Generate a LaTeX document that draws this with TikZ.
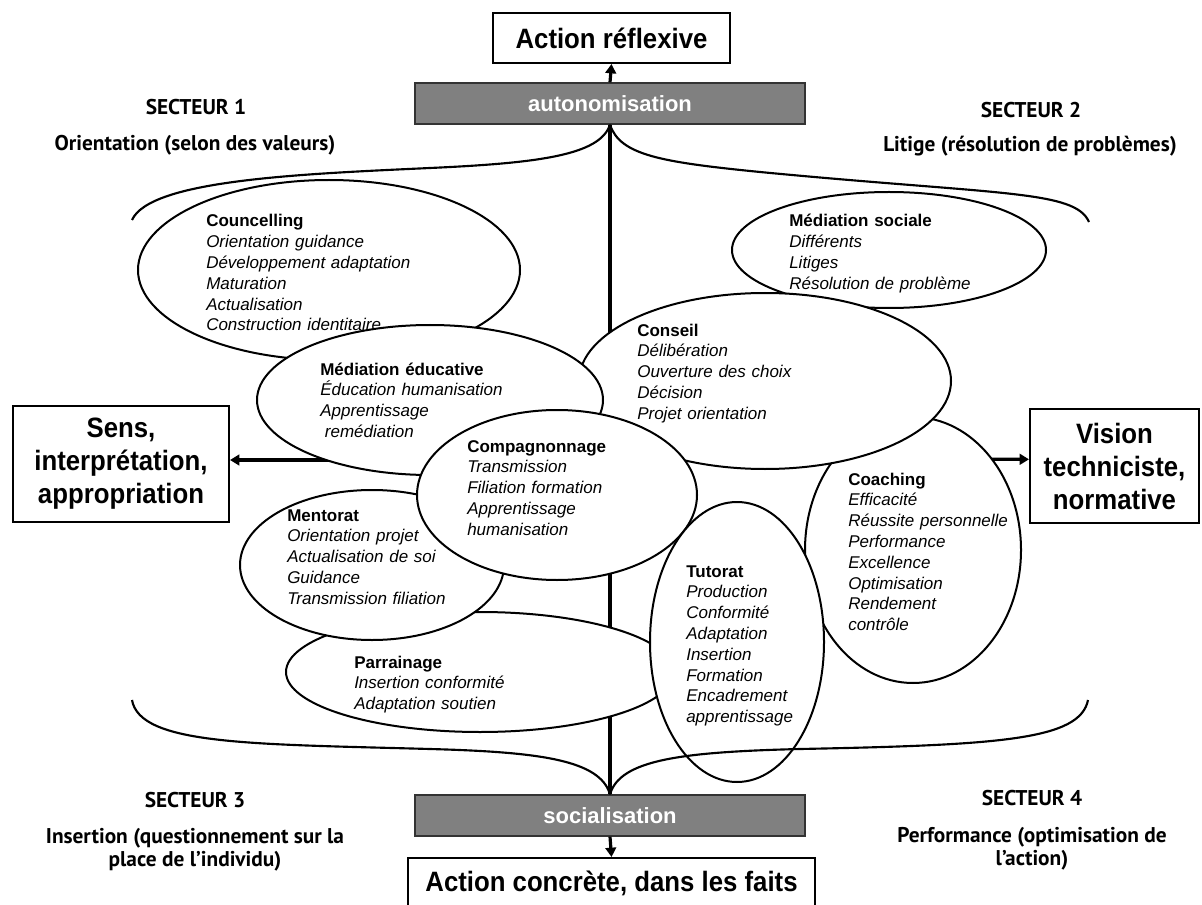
\documentclass[tikz,border=0pt]{standalone}
\usepackage{fontspec}
\setmainfont{Liberation Sans}
\newfontfamily\labfont{Liberation Sans}[FakeStretch=0.92]
\newfontfamily\sectfont{PT Sans}
\usetikzlibrary{arrows.meta,shapes.geometric}
\definecolor{boxgray}{HTML}{808080}
\tikzset{
  ellp/.style 2 args={ellipse, draw, line width=1.5pt, fill=white, inner sep=0pt,
    minimum width=#1*1.5pt, minimum height=#2*1.5pt},
  txt/.style={anchor=base west, inner sep=0pt, align=left, text width=200pt,
    font=\fontsize{12.75}{15.6}\selectfont},
  bigbox/.style={draw, line width=1.5pt, fill=white, inner sep=0pt, align=center,
    font=\labfont\bfseries\fontsize{21}{24.75}\selectfont},
  graybox/.style={draw=black!80, line width=1pt, fill=boxgray, text=white, inner sep=0pt,
    font=\bfseries\fontsize{16.5}{19}\selectfont},
  sect/.style={inner sep=0pt, align=center, font=\sectfont\bfseries\fontsize{16}{17.25}\selectfont},
  axis/.style={line width=2.4pt},
  arr/.style={line width=2.4pt, -{Triangle[length=7pt,width=8pt]}},
  brace/.style={line width=1.6pt},
}
\begin{document}
\begin{tikzpicture}[x=0.75pt,y=-0.75pt]
\useasboundingbox (0,0) rectangle (1202,905);

% boxes
\node[bigbox, minimum width=177.75pt, minimum height=37.5pt] (refl) at (611.5,38) {Action réflexive};
\node[graybox, minimum width=292.5pt, minimum height=30.75pt] (auto) at (610,103.5) {autonomisation};
\node[graybox, minimum width=292.5pt, minimum height=30.75pt] (soc) at (610,815.5) {socialisation};
\node[bigbox, minimum width=305.25pt, minimum height=37.5pt] (conc) at (611.5,883) {Action concrète, dans les faits};
\node[bigbox, minimum width=162pt, minimum height=87pt] (sens) at (121,464) {Sens,\\interprétation,\\appropriation};
\node[bigbox, minimum width=126.75pt, minimum height=85.5pt] (vision) at (1114.5,466) {Vision\\techniciste,\\normative};

% sector labels
\node[sect] (s1) at (196,107) {SECTEUR 1};
\node[sect] (s1b) at (195,145) {Orientation (selon des valeurs)};
\node[sect] (s2) at (1031,110) {SECTEUR 2};
\node[sect] (s2b) at (1030,146) {Litige (résolution de problèmes)};
\node[sect] (s3) at (195,800) {SECTEUR 3};
\node[sect] (s3b) at (195,849.5) {Insertion (questionnement sur la\\place de l’individu)};
\node[sect] (s4) at (1032,798) {SECTEUR 4};
\node[sect] (s4b) at (1032,848.5) {Performance (optimisation de\\l’action)};

% axis and arrows (behind ellipses)
\draw[axis] (auto.south) -- (soc.north);
\draw[arr] (auto.north) -- (refl.south);
\draw[arr] (soc.south) -- (conc.north);

\coordinate (sensin) at ([yshift=3pt]sens.east);
\coordinate (visin) at ([yshift=5pt]vision.west);
\coordinate (meax) at (430,460);
\coordinate (coax) at (913,459);
\draw[arr] (meax) -- (sensin);
\draw[arr] (coax) -- (visin);

% ellipses
\node[ellp={191}{90}] (coun) at (329,270) {};
\node[txt] (counT) at (206,227) {\textbf{Councelling}\\\textit{Orientation guidance}\\\textit{Développement adaptation}\\\textit{Maturation}\\\textit{Actualisation}\\\textit{Construction identitaire}};

\node[ellp={157}{58}] (msoc) at (889,250) {};
\node[txt] (msocT) at (789,227) {\textbf{Médiation sociale}\\\textit{Différents}\\\textit{Litiges}\\\textit{Résolution de problème}};

\node[ellp={108}{133}] (coach) at (913,550) {};
\node[txt] (coachT) at (848,485) {\textbf{Coaching}\\\textit{Efficacité}\\\textit{Réussite personnelle}\\\textit{Performance}\\\textit{Excellence}\\\textit{Optimisation}\\\textit{Rendement}\\\textit{contrôle}};

\node[ellp={186}{88}] (cons) at (765,381) {};
\node[txt] (consT) at (637,336) {\textbf{Conseil}\\\textit{Délibération}\\\textit{Ouverture des choix}\\\textit{Décision}\\\textit{Projet orientation}};

\node[ellp={194}{60}] (parr) at (480,672) {};
\node[txt] (parrT) at (354,668) {\textbf{Parrainage}\\\textit{Insertion conformité}\\\textit{Adaptation soutien}};

\node[ellp={173}{75}] (medu) at (430,400) {};
\node[txt] (meduT) at (320,375) {\textbf{Médiation éducative}\\\textit{Éducation humanisation}\\\textit{Apprentissage}\\\hspace*{3.5pt}\textit{remédiation}};

\node[ellp={132}{75}] (ment) at (372,565) {};
\node[txt] (mentT) at (287,521) {\textbf{Mentorat}\\\textit{Orientation projet}\\\textit{Actualisation de soi}\\\textit{Guidance}\\\textit{Transmission filiation}};

\node[ellp={140}{85}] (comp) at (557,495) {};
\node[txt] (compT) at (467,452) {\textbf{Compagnonnage}\\\textit{Transmission}\\\textit{Filiation formation}\\\textit{Apprentissage}\\\textit{humanisation}};

\node[ellp={87}{140}] (tut) at (737,642) {};
\node[txt] (tutT) at (686,577) {\textbf{Tutorat}\\\textit{Production}\\\textit{Conformité}\\\textit{Adaptation}\\\textit{Insertion}\\\textit{Formation}\\\textit{Encadrement}\\\textit{apprentissage}};

% braces
\draw[brace] (auto.south) .. controls (600,155) and (540,163) .. (430,168) .. controls (300,174) and (150,180) .. (132,220);
\draw[brace] (auto.south) .. controls (620,155) and (660,162) .. (760,172) .. controls (1000,195) and (1075,190) .. (1089,222);
\draw[brace] (soc.north) .. controls (600,760) and (540,752) .. (430,749) .. controls (250,744) and (140,745) .. (132,700);
\draw[brace] (soc.north) .. controls (620,760) and (680,752) .. (800,749) .. controls (1000,745) and (1080,740) .. (1088,700);
\end{tikzpicture}
\end{document}
